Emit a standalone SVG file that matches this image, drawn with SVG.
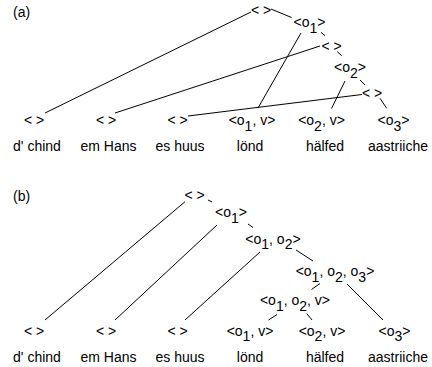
<svg xmlns="http://www.w3.org/2000/svg" width="432" height="367" viewBox="0 0 432 367">
  <style>
    text { font-family: "Liberation Sans", Arial, Helvetica, sans-serif; font-size: 14px; fill: #000; }
    .n { text-anchor: middle; }
    .w { text-anchor: middle; }
    .lbl { text-anchor: start; }
    #connectors line { stroke: #000; stroke-width: 1; }
  </style>
  <rect width="432" height="367" fill="#fff"/>

  <!-- panel (a) -->
  <text class="lbl" x="13" y="16.5">(a)</text>

  <g id="connectors">
    <!-- (a) -->
    <line x1="45" y1="113" x2="251" y2="12"/>
    <line x1="115" y1="113" x2="320" y2="46"/>
    <line x1="188" y1="116" x2="362" y2="94.5"/>
    <line x1="301" y1="33" x2="258" y2="108"/>
    <line x1="345" y1="81" x2="331.5" y2="108.5"/>
    <line x1="271" y1="9" x2="291.5" y2="17.5"/>
    <line x1="321" y1="32.3" x2="325" y2="35.7"/>
    <line x1="337.3" y1="51.7" x2="341.7" y2="55.7"/>
    <line x1="360" y1="80" x2="365" y2="85"/>
    <line x1="380" y1="98.3" x2="386.7" y2="108.3"/>
    <!-- (b) -->
    <line x1="45" y1="320" x2="185" y2="201.7"/>
    <line x1="115" y1="320" x2="217" y2="225"/>
    <line x1="185" y1="320" x2="260" y2="252"/>
    <line x1="208" y1="200" x2="212" y2="202"/>
    <line x1="248" y1="224" x2="253" y2="227.5"/>
    <line x1="296" y1="250" x2="313" y2="261"/>
    <line x1="347" y1="284" x2="383" y2="320"/>
    <line x1="320" y1="283.5" x2="311.5" y2="289.5"/>
    <line x1="277" y1="314.5" x2="268.5" y2="320"/>
    <line x1="306.7" y1="313.5" x2="312" y2="320"/>
  </g>

  <g id="a-root"><text class="n" x="261" y="15">&lt; &gt;</text></g>
  <g id="a-o1"><text class="n" x="309.5" y="27">&lt;o<tspan dy="5.5">1</tspan><tspan dy="-5.5">&gt;</tspan></text></g>
  <g id="a-mid"><text class="n" x="331.5" y="51">&lt; &gt;</text></g>
  <g id="a-o2"><text class="n" x="350" y="72">&lt;o<tspan dy="5.5">2</tspan><tspan dy="-5.5">&gt;</tspan></text></g>
  <g id="a-low"><text class="n" x="372" y="97.5">&lt; &gt;</text></g>

  <g id="a-leaf1"><text class="n" x="34" y="125">&lt; &gt;</text></g>
  <g id="a-leaf2"><text class="n" x="106" y="125">&lt; &gt;</text></g>
  <g id="a-leaf3"><text class="n" x="177.5" y="125">&lt; &gt;</text></g>
  <g id="a-leaf4"><text class="n" x="252" y="125">&lt;o<tspan dy="5.5">1</tspan><tspan dy="-5.5">, v&gt;</tspan></text></g>
  <g id="a-leaf5"><text class="n" x="321.5" y="125">&lt;o<tspan dy="5.5">2</tspan><tspan dy="-5.5">, v&gt;</tspan></text></g>
  <g id="a-leaf6"><text class="n" x="393.5" y="125">&lt;o<tspan dy="5.5">3</tspan><tspan dy="-5.5">&gt;</tspan></text></g>

  <g id="a-words">
    <text class="w" x="37" y="151">d' chind</text>
    <text class="w" x="108.5" y="151">em Hans</text>
    <text class="w" x="180" y="151">es huus</text>
    <text class="w" x="250" y="151">lönd</text>
    <text class="w" x="325" y="151">hälfed</text>
    <text class="w" x="398" y="151">aastriiche</text>
  </g>

  <!-- panel (b) -->
  <text class="lbl" x="13" y="201">(b)</text>

  <g id="b-root"><text class="n" x="194.5" y="199.5">&lt; &gt;</text></g>
  <g id="b-o1"><text class="n" x="231" y="217">&lt;o<tspan dy="5.5">1</tspan><tspan dy="-5.5">&gt;</tspan></text></g>
  <g id="b-o1o2"><text class="n" x="273" y="243.5">&lt;o<tspan dy="5.5">1</tspan><tspan dy="-5.5">, o</tspan><tspan dy="5.5">2</tspan><tspan dy="-5.5">&gt;</tspan></text></g>
  <g id="b-o1o2o3"><text class="n" x="335" y="276">&lt;o<tspan dy="5.5">1</tspan><tspan dy="-5.5">, o</tspan><tspan dy="5.5">2</tspan><tspan dy="-5.5">, o</tspan><tspan dy="5.5">3</tspan><tspan dy="-5.5">&gt;</tspan></text></g>
  <g id="b-o1o2v"><text class="n" x="295" y="305">&lt;o<tspan dy="5.5">1</tspan><tspan dy="-5.5">, o</tspan><tspan dy="5.5">2</tspan><tspan dy="-5.5">, v&gt;</tspan></text></g>

  <g id="b-leaf1"><text class="n" x="34" y="335.5">&lt; &gt;</text></g>
  <g id="b-leaf2"><text class="n" x="106" y="335.5">&lt; &gt;</text></g>
  <g id="b-leaf3"><text class="n" x="177.5" y="335.5">&lt; &gt;</text></g>
  <g id="b-leaf4"><text class="n" x="250" y="335.5">&lt;o<tspan dy="5.5">1</tspan><tspan dy="-5.5">, v&gt;</tspan></text></g>
  <g id="b-leaf5"><text class="n" x="322" y="335.5">&lt;o<tspan dy="5.5">2</tspan><tspan dy="-5.5">, v&gt;</tspan></text></g>
  <g id="b-leaf6"><text class="n" x="394.5" y="335.5">&lt;o<tspan dy="5.5">3</tspan><tspan dy="-5.5">&gt;</tspan></text></g>

  <g id="b-words">
    <text class="w" x="37" y="362">d' chind</text>
    <text class="w" x="108.5" y="362">em Hans</text>
    <text class="w" x="180" y="362">es huus</text>
    <text class="w" x="250" y="362">lönd</text>
    <text class="w" x="325" y="362">hälfed</text>
    <text class="w" x="398" y="362">aastriiche</text>
  </g>
</svg>
